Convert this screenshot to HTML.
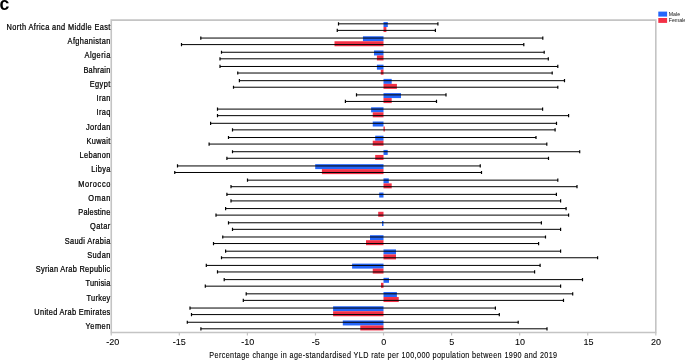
<!DOCTYPE html>
<html><head><meta charset="utf-8"><style>
html,body{margin:0;padding:0;background:#fff;}
body{width:685px;height:360px;overflow:hidden;position:relative;}
svg{position:absolute;left:0;top:0;will-change:transform;}
text{font-family:"Liberation Sans",sans-serif;font-size:8.4px;fill:#000;stroke:#000;stroke-width:0.25px;}
.c{font-weight:bold;font-size:17.6px;fill:#000;stroke:none;}
.lg{font-size:5.2px;stroke:none;fill:#111;}
.tk{font-size:9px;stroke-width:0.08px;}
.ti{stroke-width:0.1px;}
</style></head><body>
<svg width="685" height="360" viewBox="0 0 685 360">
<text class="c" x="-0.6" y="9.75">c</text>
<rect x="383.50" y="22.04" width="4.30" height="5.0" fill="#2466fa"/>
<rect x="383.50" y="27.04" width="2.90" height="5.0" fill="#f33046"/>
<rect x="362.95" y="36.25" width="20.55" height="5.0" fill="#2466fa"/>
<rect x="334.50" y="41.25" width="49.00" height="5.0" fill="#f33046"/>
<rect x="374.00" y="50.46" width="9.50" height="5.0" fill="#2466fa"/>
<rect x="376.90" y="55.46" width="6.60" height="5.0" fill="#f33046"/>
<rect x="376.90" y="64.67" width="6.60" height="5.0" fill="#2466fa"/>
<rect x="380.80" y="69.67" width="2.70" height="5.0" fill="#f33046"/>
<rect x="383.50" y="78.88" width="8.20" height="5.0" fill="#2466fa"/>
<rect x="383.50" y="83.88" width="13.40" height="5.0" fill="#f33046"/>
<rect x="383.50" y="93.09" width="17.50" height="5.0" fill="#2466fa"/>
<rect x="383.50" y="98.09" width="8.20" height="5.0" fill="#f33046"/>
<rect x="371.10" y="107.30" width="12.40" height="5.0" fill="#2466fa"/>
<rect x="372.75" y="112.30" width="10.75" height="5.0" fill="#f33046"/>
<rect x="372.75" y="121.51" width="10.75" height="5.0" fill="#2466fa"/>
<rect x="383.50" y="126.51" width="1.30" height="5.0" fill="#f33046"/>
<rect x="375.20" y="135.72" width="8.30" height="5.0" fill="#2466fa"/>
<rect x="372.75" y="140.72" width="10.75" height="5.0" fill="#f33046"/>
<rect x="383.50" y="149.93" width="4.20" height="5.0" fill="#2466fa"/>
<rect x="375.20" y="154.93" width="8.30" height="5.0" fill="#f33046"/>
<rect x="315.20" y="164.14" width="68.30" height="5.0" fill="#2466fa"/>
<rect x="321.90" y="169.14" width="61.60" height="5.0" fill="#f33046"/>
<rect x="383.50" y="178.35" width="5.30" height="5.0" fill="#2466fa"/>
<rect x="383.50" y="183.35" width="8.20" height="5.0" fill="#f33046"/>
<rect x="379.20" y="192.56" width="4.30" height="5.0" fill="#2466fa"/>
<rect x="378.20" y="211.77" width="5.30" height="5.0" fill="#f33046"/>
<rect x="382.00" y="220.98" width="1.50" height="5.0" fill="#2466fa"/>
<rect x="370.00" y="235.19" width="13.50" height="5.0" fill="#2466fa"/>
<rect x="366.00" y="240.19" width="17.50" height="5.0" fill="#f33046"/>
<rect x="383.50" y="249.40" width="12.50" height="5.0" fill="#2466fa"/>
<rect x="383.50" y="254.40" width="12.50" height="5.0" fill="#f33046"/>
<rect x="352.10" y="263.61" width="31.40" height="5.0" fill="#2466fa"/>
<rect x="372.75" y="268.61" width="10.75" height="5.0" fill="#f33046"/>
<rect x="383.50" y="277.82" width="5.50" height="5.0" fill="#2466fa"/>
<rect x="381.00" y="282.82" width="2.50" height="5.0" fill="#f33046"/>
<rect x="383.50" y="292.03" width="13.40" height="5.0" fill="#2466fa"/>
<rect x="383.50" y="297.03" width="15.25" height="5.0" fill="#f33046"/>
<rect x="333.10" y="306.24" width="50.40" height="5.0" fill="#2466fa"/>
<rect x="333.10" y="311.24" width="50.40" height="5.0" fill="#f33046"/>
<rect x="342.80" y="320.45" width="40.70" height="5.0" fill="#2466fa"/>
<rect x="360.30" y="325.45" width="23.20" height="5.0" fill="#f33046"/>
<path d="M338.50 23.84H437.90" stroke="#000" stroke-width="1"/>
<path d="M338.50 22.24V25.44M437.90 22.24V25.44" stroke="#000" stroke-width="1.2"/>
<path d="M337.25 30.39H435.40" stroke="#000" stroke-width="1"/>
<path d="M337.25 28.79V31.99M435.40 28.79V31.99" stroke="#000" stroke-width="1.2"/>
<path d="M200.80 38.05H542.80" stroke="#000" stroke-width="1"/>
<path d="M200.80 36.45V39.65M542.80 36.45V39.65" stroke="#000" stroke-width="1.2"/>
<path d="M181.50 44.60H523.80" stroke="#000" stroke-width="1"/>
<path d="M181.50 43.00V46.20M523.80 43.00V46.20" stroke="#000" stroke-width="1.2"/>
<path d="M221.50 52.26H544.20" stroke="#000" stroke-width="1"/>
<path d="M221.50 50.66V53.86M544.20 50.66V53.86" stroke="#000" stroke-width="1.2"/>
<path d="M220.00 58.81H548.30" stroke="#000" stroke-width="1"/>
<path d="M220.00 57.21V60.41M548.30 57.21V60.41" stroke="#000" stroke-width="1.2"/>
<path d="M220.00 66.47H557.80" stroke="#000" stroke-width="1"/>
<path d="M220.00 64.87V68.07M557.80 64.87V68.07" stroke="#000" stroke-width="1.2"/>
<path d="M237.75 73.02H552.20" stroke="#000" stroke-width="1"/>
<path d="M237.75 71.42V74.62M552.20 71.42V74.62" stroke="#000" stroke-width="1.2"/>
<path d="M239.40 80.68H564.50" stroke="#000" stroke-width="1"/>
<path d="M239.40 79.08V82.28M564.50 79.08V82.28" stroke="#000" stroke-width="1.2"/>
<path d="M233.50 87.23H557.80" stroke="#000" stroke-width="1"/>
<path d="M233.50 85.63V88.83M557.80 85.63V88.83" stroke="#000" stroke-width="1.2"/>
<path d="M356.50 94.89H446.00" stroke="#000" stroke-width="1"/>
<path d="M356.50 93.29V96.49M446.00 93.29V96.49" stroke="#000" stroke-width="1.2"/>
<path d="M345.40 101.44H436.50" stroke="#000" stroke-width="1"/>
<path d="M345.40 99.84V103.04M436.50 99.84V103.04" stroke="#000" stroke-width="1.2"/>
<path d="M217.50 109.10H542.60" stroke="#000" stroke-width="1"/>
<path d="M217.50 107.50V110.70M542.60 107.50V110.70" stroke="#000" stroke-width="1.2"/>
<path d="M217.50 115.65H568.60" stroke="#000" stroke-width="1"/>
<path d="M217.50 114.05V117.25M568.60 114.05V117.25" stroke="#000" stroke-width="1.2"/>
<path d="M210.60 123.31H556.50" stroke="#000" stroke-width="1"/>
<path d="M210.60 121.71V124.91M556.50 121.71V124.91" stroke="#000" stroke-width="1.2"/>
<path d="M232.50 129.86H555.10" stroke="#000" stroke-width="1"/>
<path d="M232.50 128.26V131.46M555.10 128.26V131.46" stroke="#000" stroke-width="1.2"/>
<path d="M228.50 137.52H536.00" stroke="#000" stroke-width="1"/>
<path d="M228.50 135.92V139.12M536.00 135.92V139.12" stroke="#000" stroke-width="1.2"/>
<path d="M209.10 144.07H546.80" stroke="#000" stroke-width="1"/>
<path d="M209.10 142.47V145.67M546.80 142.47V145.67" stroke="#000" stroke-width="1.2"/>
<path d="M232.50 151.73H579.70" stroke="#000" stroke-width="1"/>
<path d="M232.50 150.13V153.33M579.70 150.13V153.33" stroke="#000" stroke-width="1.2"/>
<path d="M226.90 158.28H548.50" stroke="#000" stroke-width="1"/>
<path d="M226.90 156.68V159.88M548.50 156.68V159.88" stroke="#000" stroke-width="1.2"/>
<path d="M177.50 165.94H480.25" stroke="#000" stroke-width="1"/>
<path d="M177.50 164.34V167.54M480.25 164.34V167.54" stroke="#000" stroke-width="1.2"/>
<path d="M174.75 172.49H481.50" stroke="#000" stroke-width="1"/>
<path d="M174.75 170.89V174.09M481.50 170.89V174.09" stroke="#000" stroke-width="1.2"/>
<path d="M247.50 180.15H557.80" stroke="#000" stroke-width="1"/>
<path d="M247.50 178.55V181.75M557.80 178.55V181.75" stroke="#000" stroke-width="1.2"/>
<path d="M231.00 186.70H577.00" stroke="#000" stroke-width="1"/>
<path d="M231.00 185.10V188.30M577.00 185.10V188.30" stroke="#000" stroke-width="1.2"/>
<path d="M226.90 194.36H556.40" stroke="#000" stroke-width="1"/>
<path d="M226.90 192.76V195.96M556.40 192.76V195.96" stroke="#000" stroke-width="1.2"/>
<path d="M231.00 200.91H560.60" stroke="#000" stroke-width="1"/>
<path d="M231.00 199.31V202.51M560.60 199.31V202.51" stroke="#000" stroke-width="1.2"/>
<path d="M225.60 208.57H566.10" stroke="#000" stroke-width="1"/>
<path d="M225.60 206.97V210.17M566.10 206.97V210.17" stroke="#000" stroke-width="1.2"/>
<path d="M216.00 215.12H568.60" stroke="#000" stroke-width="1"/>
<path d="M216.00 213.52V216.72M568.60 213.52V216.72" stroke="#000" stroke-width="1.2"/>
<path d="M228.50 222.78H541.40" stroke="#000" stroke-width="1"/>
<path d="M228.50 221.18V224.38M541.40 221.18V224.38" stroke="#000" stroke-width="1.2"/>
<path d="M232.50 229.33H560.60" stroke="#000" stroke-width="1"/>
<path d="M232.50 227.73V230.93M560.60 227.73V230.93" stroke="#000" stroke-width="1.2"/>
<path d="M222.75 236.99H545.50" stroke="#000" stroke-width="1"/>
<path d="M222.75 235.39V238.59M545.50 235.39V238.59" stroke="#000" stroke-width="1.2"/>
<path d="M213.50 243.54H538.60" stroke="#000" stroke-width="1"/>
<path d="M213.50 241.94V245.14M538.60 241.94V245.14" stroke="#000" stroke-width="1.2"/>
<path d="M225.60 251.20H560.60" stroke="#000" stroke-width="1"/>
<path d="M225.60 249.60V252.80M560.60 249.60V252.80" stroke="#000" stroke-width="1.2"/>
<path d="M221.50 257.75H597.60" stroke="#000" stroke-width="1"/>
<path d="M221.50 256.15V259.35M597.60 256.15V259.35" stroke="#000" stroke-width="1.2"/>
<path d="M206.30 265.41H540.10" stroke="#000" stroke-width="1"/>
<path d="M206.30 263.81V267.01M540.10 263.81V267.01" stroke="#000" stroke-width="1.2"/>
<path d="M217.50 271.96H534.60" stroke="#000" stroke-width="1"/>
<path d="M217.50 270.36V273.56M534.60 270.36V273.56" stroke="#000" stroke-width="1.2"/>
<path d="M224.20 279.62H582.50" stroke="#000" stroke-width="1"/>
<path d="M224.20 278.02V281.22M582.50 278.02V281.22" stroke="#000" stroke-width="1.2"/>
<path d="M205.30 286.17H560.60" stroke="#000" stroke-width="1"/>
<path d="M205.30 284.57V287.77M560.60 284.57V287.77" stroke="#000" stroke-width="1.2"/>
<path d="M246.20 293.83H572.70" stroke="#000" stroke-width="1"/>
<path d="M246.20 292.23V295.43M572.70 292.23V295.43" stroke="#000" stroke-width="1.2"/>
<path d="M243.30 300.38H563.50" stroke="#000" stroke-width="1"/>
<path d="M243.30 298.78V301.98M563.50 298.78V301.98" stroke="#000" stroke-width="1.2"/>
<path d="M190.00 308.04H495.40" stroke="#000" stroke-width="1"/>
<path d="M190.00 306.44V309.64M495.40 306.44V309.64" stroke="#000" stroke-width="1.2"/>
<path d="M191.50 314.59H499.30" stroke="#000" stroke-width="1"/>
<path d="M191.50 312.99V316.19M499.30 312.99V316.19" stroke="#000" stroke-width="1.2"/>
<path d="M187.30 322.25H518.20" stroke="#000" stroke-width="1"/>
<path d="M187.30 320.65V323.85M518.20 320.65V323.85" stroke="#000" stroke-width="1.2"/>
<path d="M200.90 328.80H547.00" stroke="#000" stroke-width="1"/>
<path d="M200.90 327.20V330.40M547.00 327.20V330.40" stroke="#000" stroke-width="1.2"/>
<path d="M111.25 20.1H655.8V332.5H111.25Z" fill="none" stroke="#c4c4c4" stroke-width="1.6"/>
<path d="M111.25 332.5V335.5" stroke="#c4c4c4" stroke-width="1.2"/>
<path d="M179.32 332.5V335.5" stroke="#c4c4c4" stroke-width="1.2"/>
<path d="M247.39 332.5V335.5" stroke="#c4c4c4" stroke-width="1.2"/>
<path d="M315.46 332.5V335.5" stroke="#c4c4c4" stroke-width="1.2"/>
<path d="M383.52 332.5V335.5" stroke="#c4c4c4" stroke-width="1.2"/>
<path d="M451.59 332.5V335.5" stroke="#c4c4c4" stroke-width="1.2"/>
<path d="M519.66 332.5V335.5" stroke="#c4c4c4" stroke-width="1.2"/>
<path d="M587.73 332.5V335.5" stroke="#c4c4c4" stroke-width="1.2"/>
<path d="M655.80 332.5V335.5" stroke="#c4c4c4" stroke-width="1.2"/>
<text transform="translate(6.60 29.75) scale(0.88 1)" x="0" y="0" textLength="117.84" lengthAdjust="spacing">North Africa and Middle East</text>
<text transform="translate(67.60 44.00) scale(0.88 1)" x="0" y="0" textLength="48.52" lengthAdjust="spacing">Afghanistan</text>
<text transform="translate(84.60 58.25) scale(0.88 1)" x="0" y="0" textLength="29.20" lengthAdjust="spacing">Algeria</text>
<text transform="translate(83.40 72.50) scale(0.88 1)" x="0" y="0" textLength="30.57" lengthAdjust="spacing">Bahrain</text>
<text transform="translate(89.70 86.75) scale(0.88 1)" x="0" y="0" textLength="23.41" lengthAdjust="spacing">Egypt</text>
<text transform="translate(96.50 101.00) scale(0.88 1)" x="0" y="0" textLength="15.68" lengthAdjust="spacing">Iran</text>
<text transform="translate(96.50 115.25) scale(0.88 1)" x="0" y="0" textLength="15.68" lengthAdjust="spacing">Iraq</text>
<text transform="translate(85.90 129.50) scale(0.88 1)" x="0" y="0" textLength="27.73" lengthAdjust="spacing">Jordan</text>
<text transform="translate(86.60 143.75) scale(0.88 1)" x="0" y="0" textLength="26.93" lengthAdjust="spacing">Kuwait</text>
<text transform="translate(79.60 158.00) scale(0.88 1)" x="0" y="0" textLength="34.89" lengthAdjust="spacing">Lebanon</text>
<text transform="translate(91.30 172.25) scale(0.88 1)" x="0" y="0" textLength="21.59" lengthAdjust="spacing">Libya</text>
<text transform="translate(78.30 186.50) scale(0.88 1)" x="0" y="0" textLength="36.36" lengthAdjust="spacing">Morocco</text>
<text transform="translate(88.30 200.75) scale(0.88 1)" x="0" y="0" textLength="25.00" lengthAdjust="spacing">Oman</text>
<text transform="translate(78.30 215.00) scale(0.88 1)" x="0" y="0" textLength="36.36" lengthAdjust="spacing">Palestine</text>
<text transform="translate(90.10 229.25) scale(0.88 1)" x="0" y="0" textLength="22.95" lengthAdjust="spacing">Qatar</text>
<text transform="translate(64.70 243.50) scale(0.88 1)" x="0" y="0" textLength="51.82" lengthAdjust="spacing">Saudi Arabia</text>
<text transform="translate(87.20 257.75) scale(0.88 1)" x="0" y="0" textLength="26.25" lengthAdjust="spacing">Sudan</text>
<text transform="translate(35.70 272.00) scale(0.88 1)" x="0" y="0" textLength="84.77" lengthAdjust="spacing">Syrian Arab Republic</text>
<text transform="translate(85.50 286.25) scale(0.88 1)" x="0" y="0" textLength="28.18" lengthAdjust="spacing">Tunisia</text>
<text transform="translate(86.40 300.50) scale(0.88 1)" x="0" y="0" textLength="27.16" lengthAdjust="spacing">Turkey</text>
<text transform="translate(34.30 314.75) scale(0.88 1)" x="0" y="0" textLength="86.36" lengthAdjust="spacing">United Arab Emirates</text>
<text transform="translate(85.50 329.00) scale(0.88 1)" x="0" y="0" textLength="28.18" lengthAdjust="spacing">Yemen</text>
<text class="tk" x="112.85" y="344.8" text-anchor="middle">-20</text>
<text class="tk" x="179.35" y="344.8" text-anchor="middle">-15</text>
<text class="tk" x="247.70" y="344.8" text-anchor="middle">-10</text>
<text class="tk" x="315.65" y="344.8" text-anchor="middle">-5</text>
<text class="tk" x="383.75" y="344.8" text-anchor="middle">0</text>
<text class="tk" x="451.75" y="344.8" text-anchor="middle">5</text>
<text class="tk" x="519.90" y="344.8" text-anchor="middle">10</text>
<text class="tk" x="588.50" y="344.8" text-anchor="middle">15</text>
<text class="tk" x="656.00" y="344.8" text-anchor="middle">20</text>
<text class="ti" transform="translate(209.3 357.9) scale(0.86 1)" x="0" y="0" textLength="404.42" lengthAdjust="spacing">Percentage change in age-standardised YLD rate per 100,000 population between 1990 and 2019</text>
<rect x="658.3" y="11.6" width="8.8" height="5" fill="#2466fa"/>
<rect x="658.3" y="18" width="8.8" height="4.9" fill="#f33046"/>
<text class="lg" x="668.8" y="15.9">Male</text>
<text class="lg" x="668.8" y="22.3">Female</text>
</svg>
</body></html>
